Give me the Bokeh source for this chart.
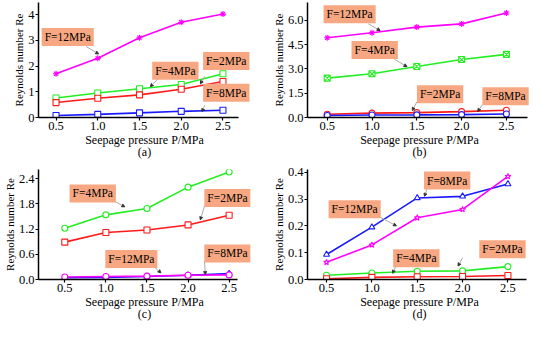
from bokeh.plotting import figure
from bokeh.layouts import gridplot
from bokeh.models import (Range1d, FixedTicker, Label, Arrow, NormalHead,
                          NumeralTickFormatter)
from bokeh.embed import file_html
from bokeh.resources import INLINE

# ---------------- data ----------------
pressure = [0.5, 1.0, 1.5, 2.0, 2.5]
x_ticks = [0.5, 1.0, 1.5, 2.0, 2.5]

# panel (a)
a_F12 = [1.70, 2.30, 3.10, 3.70, 4.02]
a_F4 = [0.76, 0.95, 1.12, 1.28, 1.70]
a_F2 = [0.58, 0.75, 0.88, 1.10, 1.40]
a_F8 = [0.08, 0.12, 0.18, 0.24, 0.28]
a_yticks = [0, 1, 2, 3, 4]

# panel (b)
b_F12 = [4.92, 5.23, 5.58, 5.78, 6.45]
b_F4 = [2.43, 2.70, 3.15, 3.58, 3.90]
b_F2 = [0.20, 0.27, 0.30, 0.36, 0.45]
b_F8 = [0.12, 0.15, 0.16, 0.18, 0.22]
b_yticks = [0.0, 1.5, 3.0, 4.5, 6.0]

# panel (c)
c_F4 = [1.22, 1.54, 1.69, 2.20, 2.56]
c_F2 = [0.89, 1.12, 1.18, 1.30, 1.53]
c_F12 = [0.06, 0.07, 0.08, 0.10, 0.11]
c_F8 = [0.04, 0.05, 0.07, 0.10, 0.14]
c_yticks = [0.0, 0.6, 1.2, 1.8, 2.4]

# panel (d)
d_F8 = [0.093, 0.195, 0.304, 0.310, 0.356]
d_F12 = [0.064, 0.129, 0.230, 0.261, 0.384]
d_F4 = [0.016, 0.024, 0.031, 0.032, 0.048]
d_F2 = [0.003, 0.008, 0.010, 0.011, 0.015]
d_yticks = [0.0, 0.1, 0.2, 0.3, 0.4]

labels = ["F=2MPa", "F=4MPa", "F=8MPa", "F=12MPa"]
COL = {"F=2MPa": "#FF1A1A", "F=4MPa": "#22EE22", "F=8MPa": "#1A1AFF", "F=12MPa": "#FF00FF"}

FONT = "Liberation Serif"
BOX = "#F7A882"


def make_panel(tag, series, xr, xend, yr, yticks, yfmt, notes, w, h, bl, br, bt, bb):
    p = figure(width=w, height=h, output_backend="svg", toolbar_location=None,
               x_range=Range1d(xr[0], xend), y_range=Range1d(*yr),
               min_border_left=bl, min_border_right=br,
               min_border_top=bt, min_border_bottom=bb)
    p.outline_line_color = None
    p.grid.visible = False
    p.background_fill_color = "white"
    p.axis.axis_line_width = 1.5
    p.axis.axis_line_color = "black"
    p.axis.major_tick_line_color = "black"
    p.axis.major_tick_line_width = 1.2
    p.axis.major_tick_in = 0
    p.axis.major_tick_out = 3
    p.axis.minor_tick_line_color = None
    p.axis.major_label_text_font = FONT
    p.axis.major_label_text_font_size = "12.5px"
    p.axis.major_label_text_color = "black"
    p.axis.major_label_text_line_height = 1.0
    p.axis.axis_label_text_font = FONT
    p.axis.axis_label_text_font_size = "12px"
    p.axis.axis_label_text_font_style = "normal"
    p.axis.axis_label_text_color = "black"
    p.axis.axis_label_text_line_height = 0.9
    p.yaxis.axis_label_text_font_size = "11px"
    p.axis.major_label_standoff = 1
    p.axis.axis_label_standoff = 0
    p.xaxis.bounds = xr
    p.xaxis.ticker = FixedTicker(ticks=x_ticks)
    p.xaxis.formatter = NumeralTickFormatter(format="0.0")
    p.yaxis.ticker = FixedTicker(ticks=yticks)
    p.yaxis.formatter = NumeralTickFormatter(format=yfmt)
    p.xaxis.axis_label = "Seepage pressure P/MPa\n" + tag
    p.yaxis.axis_label = "Reynolds number Re"

    for name, vals, marker in series:
        c = COL[name]
        p.line(pressure, vals, line_color=c, line_width=1.6)
        p.scatter(pressure, vals, marker=marker, size=6, line_color=c,
                  fill_color="white", line_width=1.1)

    for txt, lx, ly, x0, y0, x1, y1 in notes:
        p.add_layout(Arrow(end=NormalHead(size=3, fill_color="#333333", line_color="#333333"),
                           x_start=x0, y_start=y0, x_end=x1, y_end=y1,
                           line_color="#AAAAAA", line_width=1))
        p.add_layout(Label(x=lx, y=ly, text=txt, text_align="center",
                           text_baseline="middle", text_font=FONT,
                           text_font_size="11.5px", text_color="black",
                           background_fill_color=BOX, padding=3))
    return p


W, H = 267, 162

pa = make_panel(
    "(a)",
    [("F=12MPa", a_F12, "asterisk"), ("F=4MPa", a_F4, "square"),
     ("F=2MPa", a_F2, "square"), ("F=8MPa", a_F8, "square")],
    (0.29, 2.69), 2.83, (0, 4.47), a_yticks, "0",
    [("F=12MPa", 0.64, 3.13, 0.86, 2.76, 1.01, 2.47),
     ("F=4MPa", 1.93, 1.82, 1.73, 1.53, 1.63, 1.20),
     ("F=2MPa", 2.54, 2.20, 2.28, 1.60, 2.23, 1.31),
     ("F=8MPa", 2.54, 0.96, 2.28, 0.47, 2.25, 0.22)],
    W, H, 28, 17, 2, 30)

pb = make_panel(
    "(b)",
    [("F=12MPa", b_F12, "asterisk"), ("F=4MPa", b_F4, "square_x"),
     ("F=2MPa", b_F2, "circle"), ("F=8MPa", b_F8, "circle")],
    (0.28, 2.73), 2.78, (0, 7.1), b_yticks, "0.0",
    [("F=12MPa", 0.75, 6.37, 0.96, 5.78, 1.09, 5.37),
     ("F=4MPa", 1.03, 4.16, 1.25, 3.60, 1.39, 3.14),
     ("F=2MPa", 1.76, 1.43, 1.50, 0.96, 1.45, 0.43),
     ("F=8MPa", 2.49, 1.31, 2.23, 0.78, 2.18, 0.37)],
    W, H, 40, 3, 2, 30)

pc = make_panel(
    "(c)",
    [("F=4MPa", c_F4, "circle"), ("F=2MPa", c_F2, "square"),
     ("F=8MPa", c_F8, "triangle"), ("F=12MPa", c_F12, "circle")],
    (0.18, 2.60), 2.76, (0, 2.62), c_yticks, "0.0",
    [("F=4MPa", 0.84, 2.05, 1.08, 1.89, 1.23, 1.73),
     ("F=2MPa", 2.48, 1.94, 2.20, 1.75, 2.15, 1.42),
     ("F=12MPa", 1.31, 0.49, 1.57, 0.33, 1.67, 0.16),
     ("F=8MPa", 2.48, 0.62, 2.20, 0.44, 2.21, 0.12)],
    W, H, 28, 15, 2, 30)

pd_ = make_panel(
    "(d)",
    [("F=8MPa", d_F8, "triangle"), ("F=12MPa", d_F12, "star"),
     ("F=4MPa", d_F4, "circle"), ("F=2MPa", d_F2, "square")],
    (0.29, 2.71), 2.76, (0, 0.41), d_yticks, "0.0",
    [("F=8MPa", 1.83, 0.369, 1.61, 0.341, 1.58, 0.31),
     ("F=12MPa", 0.81, 0.262, 1.08, 0.234, 1.27, 0.20),
     ("F=4MPa", 1.49, 0.079, 1.26, 0.047, 1.23, 0.023),
     ("F=2MPa", 2.44, 0.113, 2.00, 0.081, 1.95, 0.050)],
    W, H, 40, 3, 7, 30)

grid = gridplot([[pa, pb], [pc, pd_]], toolbar_location=None)

open("out.html", "w").write(file_html(grid, INLINE))
